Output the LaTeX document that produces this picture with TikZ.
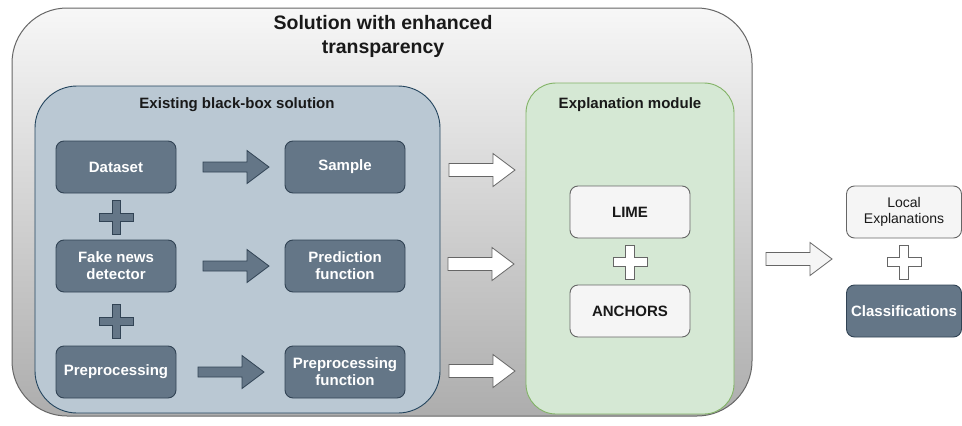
\documentclass[tikz,border=0pt]{standalone}
\usepackage{fontspec}
\setmainfont{Liberation Sans}
\definecolor{darkfill}{HTML}{647687}
\definecolor{darkline}{HTML}{314354}
\definecolor{bluefill}{HTML}{BAC8D3}
\definecolor{blueline}{HTML}{23445D}
\definecolor{greenfill}{HTML}{D5E8D4}
\definecolor{greenline}{HTML}{82B366}
\definecolor{lightfill}{HTML}{F5F5F5}
\definecolor{lightline}{HTML}{666666}
\definecolor{outertop}{HTML}{F7F7F7}
\definecolor{outerbottom}{HTML}{ADADAD}
\begin{document}
\begin{tikzpicture}[x=1pt,y=-1pt,
  boxbase/.style={rectangle, rounded corners=8pt, line width=0.9pt,
    minimum width=120pt, minimum height=52pt, align=center, inner sep=2pt},
  darkbox/.style={boxbase, fill=darkfill, draw=darkline, text=white,
    font=\fontsize{15}{17}\selectfont\bfseries},
  lightbox/.style={boxbase, fill=lightfill, draw=lightline, text=black!90,
    font=\fontsize{15}{17}\selectfont\bfseries},
  boxtitle/.style={font=\fontsize{15}{17}\selectfont\bfseries, text=black!90},
  pics/fatarrow/.style={code={\path[pic actions] (0,-#1)--(44,-#1)--(44,-16.5)--(66,0)--(44,16.5)--(44,#1)--(0,#1)--cycle;}},
  pics/plussign/.style={code={\path[pic actions] (-#1,-17)--(#1,-17)--(#1,-#1)--(17,-#1)--(17,#1)--(#1,#1)--(#1,17)--(-#1,17)--(-#1,#1)--(-17,#1)--(-17,-#1)--(-#1,-#1)--cycle;}},
  darkshape/.style={fill=darkfill, draw=darkline, line width=0.8pt},
  whiteshape/.style={fill=white, draw=lightline, line width=0.8pt},
]
\useasboundingbox (0,0) rectangle (962,426);

% outer container with vertical gradient
\path[draw=lightline, line width=1pt, top color=outertop, bottom color=outerbottom,
  rounded corners=55pt] (12,8) rectangle (752,416);
\node[font=\fontsize{19.5}{24}\selectfont\bfseries, align=center, text=black!90]
  (maintitle) at (383,36) {Solution with enhanced\\transparency};

% black-box group
\path[draw=blueline, line width=0.9pt, fill=bluefill, rounded corners=42pt]
  (35,86) rectangle (440,413);
\node[boxtitle] (bbtitle) at (237,105) {Existing black-box solution};

\node[darkbox] (dataset) at (116,167) {Dataset};
\node[darkbox] (sample) at (345,167) {Sample};
\node[darkbox] (detector) at (116,266) {Fake news\\detector};
\node[darkbox] (predfun) at (345,266) {Prediction\\function};
\node[darkbox] (prep) at (116,372) {Preprocessing};
\node[darkbox] (prepfun) at (345,372) {Preprocessing\\function};

\pic[darkshape] at (203,167) {fatarrow=5};
\pic[darkshape] at (203,266) {fatarrow=5};
\pic[darkshape] at (198,372) {fatarrow=5};
\pic[darkshape] at (116,217) {plussign=4};
\pic[darkshape] at (116,321) {plussign=4};

% arrows into the explanation module
\pic[whiteshape] at (449,170) {fatarrow=6.5};
\pic[whiteshape] at (448,264) {fatarrow=6.5};
\pic[whiteshape] at (449,371) {fatarrow=6.5};

% explanation module
\path[draw=greenline, line width=0.9pt, fill=greenfill, rounded corners=30pt]
  (526,83) rectangle (734,414);
\node[boxtitle] (emtitle) at (630,105) {Explanation module};
\node[lightbox] (lime) at (630,212) {LIME};
\node[lightbox] (anchors) at (630,311) {ANCHORS};
\pic[whiteshape] at (630,262) {plussign=4.5};

% outputs
\pic[fill=lightfill, draw=lightline, line width=0.8pt] at (766,259) {fatarrow=6.5};
\node[lightbox, minimum width=115pt, font=\fontsize{14}{16}\selectfont] (local) at (904,212) {Local\\Explanations};
\pic[whiteshape] at (904,262) {plussign=4.5};
\node[darkbox, minimum width=115pt] (classif) at (904,311) {Classifications};
\end{tikzpicture}
\end{document}
